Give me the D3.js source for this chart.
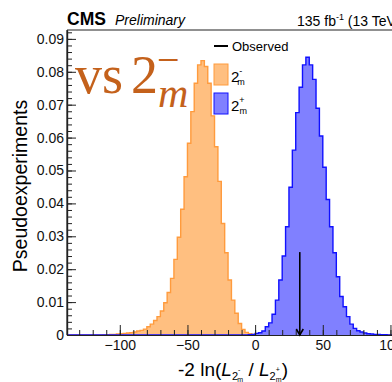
<!DOCTYPE html>
<html><head><meta charset="utf-8">
<script src="https://cdn.jsdelivr.net/npm/d3@7/dist/d3.min.js"></script>
<style>body{margin:0;background:#fff}svg{display:block;font-family:"Liberation Sans",Arial,Helvetica,sans-serif}</style>
</head><body><svg id="c" width="392" height="382"></svg>
<script>
// ---- data ----
const binWidth = 2.5;
const orangeStart = -112.5;   // 2_m^- hypothesis pseudoexperiments
const orangeValues = [0.0001,0.0001,0.0002,0.0002,0.0003,0.0004,0.0005,0.0006,0.0007,0.0009,
  0.0012,0.0014,0.0018,0.0025,0.0033,0.0044,0.0056,0.0073,0.0098,0.0129,
  0.0172,0.0230,0.0297,0.0382,0.0481,0.0583,0.0679,0.0765,0.0821,0.0834,
  0.0816,0.0765,0.0666,0.0572,0.0467,0.0339,0.0250,0.0167,0.0106,0.0066,
  0.0035,0.0017,0.0008,0.0004,0.0002,0.0001];
const blueStart = -5;         // 2_m^+ hypothesis pseudoexperiments
const blueValues = [0.0001,0.0002,0.0005,0.0007,0.0012,0.0025,0.0037,0.0063,0.0106,0.0167,
  0.0240,0.0329,0.0449,0.0562,0.0676,0.0753,0.0821,0.0844,0.0821,0.0777,
  0.0689,0.0605,0.0510,0.0412,0.0329,0.0250,0.0177,0.0117,0.0086,0.0056,
  0.0033,0.0020,0.0013,0.0009,0.0006,0.0004,0.0003,0.0002,0.0002,0.0001,0.0001];
const observedValue = 33;
const arrowTop = 0.0252;
const xMajorTicks = [-100,-50,0,50,100];
const xMinorTicks = d3.range(-130, 111, 10);
const yMajorTicks = [0,0.01,0.02,0.03,0.04,0.05,0.06,0.07,0.08,0.09];
const yMinorTicks = d3.range(0, 0.0921, 0.002);
const xDomain = [-139, 110];
const yDomain = [0, 0.0927];

// ---- scales ----
const L = 67, R = 404, T = 30, B = 335;
const svg = d3.select('#c');
const x = d3.scaleLinear().domain(xDomain).range([L, R]);
const y = d3.scaleLinear().domain(yDomain).range([B, T]);

svg.append('defs').append('clipPath').attr('id','clip')
  .append('rect').attr('x',L).attr('y',T).attr('width',R-L).attr('height',B-T);

function histPoints(start, vals){
  const pts = [];
  const lo = Math.floor(xDomain[0]/binWidth)*binWidth;
  const hi = Math.ceil(xDomain[1]/binWidth)*binWidth;
  for (let b = lo; b < hi - 1e-9; b += binWidth){
    const i = Math.round((b - start)/binWidth);
    const v = (i >= 0 && i < vals.length) ? vals[i] : 0;
    pts.push([b, v]); pts.push([b + binWidth, v]);
  }
  return pts;
}
const area = d3.area().x(d=>x(d[0])).y0(y(0)).y1(d=>y(d[1]));
const line = d3.line().x(d=>x(d[0])).y(d=>y(d[1]));
const g = svg.append('g').attr('clip-path','url(#clip)');
const op = histPoints(orangeStart, orangeValues);
const bp = histPoints(blueStart, blueValues);
g.append('path').attr('d', area(op)).attr('fill','#ffbf80');
g.append('path').attr('d', line(op)).attr('fill','none').attr('stroke','#ff9b3d').attr('stroke-width',1.4);
g.append('path').attr('d', area(bp)).attr('fill','#8080ff');
g.append('path').attr('d', line(bp)).attr('fill','none').attr('stroke','#1010ff').attr('stroke-width',1.4);

// ---- axes ----
const axCol = '#222';
svg.append('g').attr('transform',`translate(0,${B})`)
  .call(d3.axisBottom(x).tickValues(xMinorTicks).tickSizeInner(-5).tickSizeOuter(0).tickFormat(''));
svg.append('g').attr('transform',`translate(0,${B})`)
  .call(d3.axisBottom(x).tickValues(xMajorTicks).tickSizeInner(-10).tickSizeOuter(0).tickPadding(5)
    .tickFormat(d => d < 0 ? '\u2212' + Math.abs(d) : String(d)));
svg.append('g').attr('transform',`translate(${L},0)`)
  .call(d3.axisLeft(y).tickValues(yMinorTicks).tickSizeInner(-5).tickSizeOuter(0).tickFormat(''));
svg.append('g').attr('transform',`translate(${L},0)`)
  .call(d3.axisLeft(y).tickValues(yMajorTicks).tickSizeInner(-9).tickSizeOuter(0).tickPadding(3)
    .tickFormat(d => d === 0 ? '0' : d.toFixed(2)));
svg.selectAll('.domain').attr('stroke', axCol).attr('stroke-width',1.2);
svg.selectAll('.tick line').attr('stroke', axCol).attr('stroke-width',1);
svg.selectAll('.tick text').attr('fill','#111').style('font-size','14px')
  .style('font-family','"Liberation Sans",Arial,sans-serif');
// top frame
svg.append('line').attr('x1',L).attr('x2',R).attr('y1',T).attr('y2',T).attr('stroke',axCol).attr('stroke-width',1.2);
svg.append('line').attr('x1',L).attr('x2',L).attr('y1',T).attr('y2',B).attr('stroke',axCol).attr('stroke-width',1.2);

// observed arrow
const ox = x(observedValue);
svg.append('line').attr('x1',ox).attr('x2',ox).attr('y1',y(arrowTop)).attr('y2',y(0))
  .attr('stroke','#000').attr('stroke-width',1.6);
svg.append('path').attr('d',`M${ox-3.5},${y(0)-6}L${ox},${y(0)}L${ox+3.5},${y(0)-6}`)
  .attr('fill','none').attr('stroke','#000').attr('stroke-width',1.6);

// ---- texts ----
svg.append('text').attr('x',L).attr('y',25).attr('font-weight','bold').attr('font-size',17.5).text('CMS');
svg.append('text').attr('x',115).attr('y',25).attr('font-style','italic').attr('font-size',14).text('Preliminary');
const lumi = svg.append('text').attr('x',297).attr('y',26).attr('font-size',14);
lumi.append('tspan').text('135 fb');
lumi.append('tspan').attr('font-size',9).attr('dy',-6).text('-1');
lumi.append('tspan').attr('dy',6).text(' (13 TeV)');

// big overlay label
const serif = '"Liberation Serif","Times New Roman",serif';
const oc = '#c4611b';
svg.append('text').attr('x',75).attr('y',93).attr('font-family',serif).attr('font-size',54).attr('fill',oc).text('vs');
svg.append('text').attr('x',131).attr('y',93).attr('font-family',serif).attr('font-size',54).attr('fill',oc).text('2');
svg.append('text').attr('x',157).attr('y',73).attr('font-family',serif).attr('font-size',40).attr('fill',oc).text('\u2212');
svg.append('text').attr('x',158).attr('y',107).attr('font-family',serif).attr('font-style','italic').attr('font-size',42).attr('fill',oc).text('m');

// y title
svg.append('text').attr('transform','translate(27,186) rotate(-90)').attr('text-anchor','middle')
  .attr('font-size',19.5).text('Pseudoexperiments');

// x title
const xt = svg.append('text').attr('x',178).attr('y',376).attr('font-size',19);
xt.append('tspan').text('-2 ln(');
xt.append('tspan').attr('font-style','italic').text('L');
xt.append('tspan').attr('font-size',11).attr('dy',4).text('2');
xt.append('tspan').attr('font-size',7).attr('dy',-8).text('-');
xt.append('tspan').attr('font-size',7).attr('dx',-3).attr('dy',10).text('m');
xt.append('tspan').attr('dy',-6).text(' / ');
xt.append('tspan').attr('font-style','italic').text('L');
xt.append('tspan').attr('font-size',11).attr('dy',4).text('2');
xt.append('tspan').attr('font-size',7).attr('dy',-8).text('+');
xt.append('tspan').attr('font-size',7).attr('dx',-4).attr('dy',10).text('m');
xt.append('tspan').attr('dy',-6).text(')');

// legend
svg.append('line').attr('x1',214).attr('x2',228).attr('y1',46).attr('y2',46).attr('stroke','#000').attr('stroke-width',2);
svg.append('text').attr('x',232).attr('y',51).attr('font-size',13).text('Observed');
const legItems = [
  {y0:64, fill:'#ffbf80', stroke:'#ff9b3d', sign:'-'},
  {y0:93, fill:'#8080ff', stroke:'#1010ff', sign:'+'}
];
legItems.forEach(it => {
  svg.append('rect').attr('x',214).attr('y',it.y0).attr('width',14).attr('height',21)
    .attr('fill',it.fill).attr('stroke',it.stroke).attr('stroke-width',1);
  const t = svg.append('text').attr('x',231).attr('y',it.y0+18).attr('font-size',15);
  t.append('tspan').text('2');
  t.append('tspan').attr('font-size',9).attr('dy',-8).text(it.sign);
  t.append('tspan').attr('font-size',9).attr('dx',-5).attr('dy',11).text('m');
});
</script></body></html>
